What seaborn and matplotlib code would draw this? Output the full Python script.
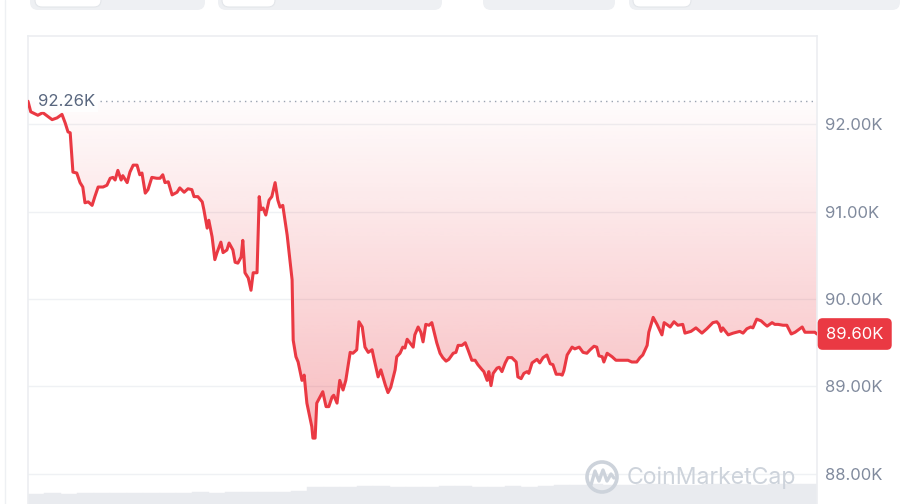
import numpy as np
import matplotlib
matplotlib.use("Agg")
import matplotlib.pyplot as plt
from matplotlib.colors import to_rgb
from matplotlib.patches import FancyBboxPatch, Circle
import seaborn as sns

# 24h price trace (minutes since open, price in K USD)
minutes = [0, 5, 18, 27, 44, 53, 62, 68, 73, 77, 82, 89, 95, 100, 104, 110, 117, 122, 128, 137,
           144, 150, 155, 159, 164, 170, 173, 181, 186, 192, 199, 204, 208, 214, 219, 226, 235, 241, 246, 250,
           256, 263, 272, 277, 285, 292, 299, 303, 310, 318, 321, 327, 330, 336, 341, 345, 352, 356, 363, 367,
           374, 378, 383, 389, 392, 396, 402, 407, 411, 418, 422, 425, 429, 434, 440, 445, 451, 456, 460, 465,
           473, 482, 484, 489, 493, 500, 504, 509, 518, 520, 524, 527, 533, 538, 544, 549, 555, 558, 564, 569,
           575, 580, 588, 593, 600, 604, 610, 615, 621, 628, 631, 639, 644, 652, 657, 662, 670, 673, 679, 684,
           688, 692, 697, 703, 706, 712, 717, 721, 726, 732, 737, 746, 752, 757, 763, 768, 776, 781, 785, 792,
           798, 803, 810, 816, 821, 829, 832, 838, 841, 845, 849, 856, 860, 865, 871, 876, 883, 891, 894, 900,
           905, 911, 914, 920, 929, 934, 940, 947, 953, 958, 964, 971, 975, 978, 984, 993, 998, 1006, 1013, 1020,
           1026, 1033, 1038, 1042, 1048, 1051, 1057, 1066, 1073, 1084, 1095, 1102, 1111, 1117, 1122, 1130, 1133, 1141, 1148, 1157,
           1161, 1168, 1172, 1179, 1186, 1195, 1199, 1210, 1219, 1230, 1239, 1250, 1257, 1261, 1265, 1268, 1278, 1287, 1299, 1305,
           1312, 1319, 1323, 1330, 1338, 1345, 1349, 1358, 1363, 1369, 1378, 1385, 1393, 1400, 1413, 1418, 1427, 1436, 1440]
price = [92.26, 92.14, 92.10, 92.13, 92.05, 92.07, 92.11, 92.01, 91.91, 91.90, 91.45, 91.44, 91.33, 91.28, 91.10, 91.11, 91.07, 91.17, 91.28, 91.28,
         91.30, 91.38, 91.39, 91.36, 91.47, 91.36, 91.41, 91.33, 91.45, 91.53, 91.53, 91.42, 91.44, 91.21, 91.25, 91.39, 91.38, 91.38, 91.42, 91.33,
         91.34, 91.19, 91.22, 91.27, 91.22, 91.26, 91.25, 91.17, 91.17, 91.11, 91.02, 90.81, 90.90, 90.71, 90.45, 90.53, 90.65, 90.53, 90.56, 90.64,
         90.56, 90.42, 90.41, 90.48, 90.67, 90.30, 90.24, 90.10, 90.30, 90.30, 91.17, 91.02, 91.04, 90.96, 91.13, 91.17, 91.33, 91.13, 91.05, 91.07,
         90.73, 90.22, 89.53, 89.34, 89.28, 89.07, 89.13, 88.81, 88.54, 88.41, 88.41, 88.81, 88.88, 88.94, 88.77, 88.77, 88.88, 88.90, 88.81, 89.07,
         88.96, 89.07, 89.39, 89.38, 89.42, 89.74, 89.68, 89.45, 89.39, 89.42, 89.33, 89.11, 89.19, 89.02, 88.93, 88.99, 89.19, 89.34, 89.38, 89.45,
         89.44, 89.54, 89.50, 89.45, 89.59, 89.68, 89.62, 89.51, 89.71, 89.70, 89.73, 89.50, 89.38, 89.33, 89.29, 89.31, 89.38, 89.39, 89.47, 89.47,
         89.50, 89.42, 89.30, 89.30, 89.25, 89.19, 89.17, 89.07, 89.17, 89.01, 89.15, 89.21, 89.22, 89.17, 89.27, 89.33, 89.33, 89.28, 89.11, 89.09,
         89.15, 89.17, 89.15, 89.27, 89.31, 89.27, 89.33, 89.36, 89.26, 89.25, 89.14, 89.14, 89.13, 89.18, 89.36, 89.45, 89.43, 89.45, 89.39, 89.38,
         89.42, 89.46, 89.45, 89.35, 89.34, 89.28, 89.38, 89.34, 89.30, 89.30, 89.30, 89.28, 89.28, 89.33, 89.36, 89.47, 89.62, 89.79, 89.71, 89.59,
         89.73, 89.70, 89.68, 89.74, 89.70, 89.71, 89.61, 89.63, 89.67, 89.61, 89.66, 89.73, 89.74, 89.71, 89.63, 89.67, 89.59, 89.61, 89.63, 89.61,
         89.66, 89.68, 89.67, 89.77, 89.75, 89.71, 89.69, 89.73, 89.71, 89.71, 89.70, 89.70, 89.60, 89.62, 89.68, 89.62, 89.62, 89.62, 89.60]
assert len(minutes) == len(price)

# volume strip at the bottom (B USD, per ~30 min)
volume = [0.85, 0.86, 0.85, 0.88, 0.87, 0.90, 0.88, 0.92, 0.90, 0.93, 0.95, 0.92, 0.96, 0.94, 0.98, 1.00, 1.05,
          1.35, 1.40, 1.38, 1.45, 1.50, 1.42, 1.40, 1.38, 1.45, 1.43, 1.40, 1.42, 1.44, 1.40, 1.46,
          1.55, 1.58, 1.60, 1.57, 1.55, 1.60, 1.62, 1.58, 1.56, 1.60, 1.63, 1.60, 1.58, 1.60, 1.62, 1.60]

ticks = [88, 89, 90, 91, 92]
tick_labels = ["88.00K", "89.00K", "90.00K", "91.00K", "92.00K"]
open_price = 92.26
last_price = 89.60

RED = "#ea3943"
GRID = "#eff1f4"
TICK = "#808a9d"

sns.set_style("white")
plt.rcParams["font.family"] = ["Inter", "DejaVu Sans"]

W, H = 907, 504
fig = plt.figure(figsize=(W / 100, H / 100), dpi=100)
pos = [28 / W, 0, (817 - 28) / W, (504 - 36) / H]

# volume axes (behind)
axv = fig.add_axes(pos, zorder=0)
sns.barplot(x=list(range(len(volume))), y=volume, ax=axv, color="#e9ebef",
            saturation=1, width=1.0, edgecolor="#e9ebef", linewidth=0.3)
axv.set_xlim(-0.5, len(volume) - 0.5)
axv.set_ylim(0, 38)
axv.axis("off")

# price axes
ax = fig.add_axes(pos, zorder=1)
ax.set_facecolor("none")

# gradient fill between the line and the open price
rgba = np.zeros((256, 1, 4))
rgba[..., :3] = to_rgb(RED)
rgba[..., 3] = np.linspace(0.34, 0.015, 256)[:, None]
low = min(price)
im = ax.imshow(rgba, aspect="auto", origin="lower", extent=[0, 1440, low, open_price],
               zorder=1, interpolation="bilinear")
poly = ax.fill_between(minutes, price, open_price, color="none", lw=0)
im.set_clip_path(poly.get_paths()[0], transform=ax.transData)
ax.set_xlim(0, 1440)
ax.set_ylim(87.657, 93.006)

sns.lineplot(x=minutes, y=price, ax=ax, color=RED, lw=2.2, zorder=3, sort=False)

ax.axhline(open_price, xmin=(100 - 28) / 789, xmax=1, color="#9aa3b1",
           ls=(0, (1, 3)), lw=1, zorder=2)

ax.set_yticks(ticks)
ax.set_yticklabels(tick_labels)
ax.yaxis.tick_right()
ax.tick_params(axis="y", length=0, pad=5.5, labelsize=12, labelcolor=TICK)
ax.set_xticks([])
ax.grid(axis="y", color=GRID, lw=1)
ax.set_axisbelow(True)
for side in ["top", "left", "right"]:
    ax.spines[side].set_color("#eceef1")
    ax.spines[side].set_linewidth(1.2)
ax.spines["bottom"].set_visible(False)

ax.text(18, open_price, "92.26K", fontsize=12, color="#58667e", va="center", ha="left", zorder=5,
        bbox=dict(boxstyle="square,pad=0.2", fc="white", ec="none", alpha=0.85))

ax.annotate("89.60K", xy=(1, last_price), xycoords=("axes fraction", "data"),
            xytext=(6.5, 0), textcoords="offset points", va="center", ha="left",
            fontsize=12, color="white", zorder=6, annotation_clip=False,
            bbox=dict(boxstyle="round,pad=0.5,rounding_size=0.3", fc=RED, ec="none"))

# page decoration: tabs on top, watermark
ov = fig.add_axes([0, 0, 1, 1], zorder=5)
ov.set_xlim(0, W)
ov.set_ylim(H, 0)
ov.axis("off")
ov.set_facecolor("none")
for x0, x1 in [(30, 205), (218, 442), (483, 615), (629, 900)]:
    ov.add_patch(FancyBboxPatch((x0, -20), x1 - x0, 30, boxstyle="round,pad=0,rounding_size=8",
                                fc="#eef0f3", ec="none"))
for x0, x1 in [(35, 101), (222, 275), (633, 691)]:
    ov.add_patch(FancyBboxPatch((x0, -20), x1 - x0, 27, boxstyle="round,pad=0,rounding_size=7",
                                fc="white", ec="#e3e6ea", lw=0.8))
ov.plot([5, 5], [0, H], color="#eef0f3", lw=1)

ov.add_patch(Circle((602, 477), 15, fill=False, ec="#cdd3db", lw=2.6))
ov.plot([591, 595, 599, 603, 607, 611, 614], [485, 471, 481, 470, 481, 474, 478],
        color="#cdd3db", lw=2.4, solid_joinstyle="round", solid_capstyle="round")
ov.text(627, 478, "CoinMarketCap", fontsize=16.6, color="#cdd3db", va="center", ha="left")

fig.savefig("out.png", dpi=100)
